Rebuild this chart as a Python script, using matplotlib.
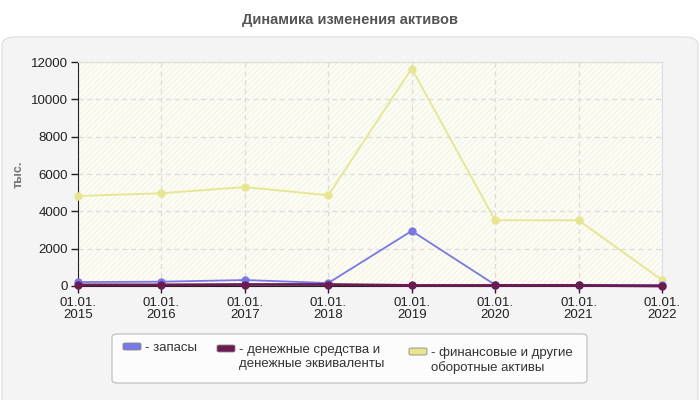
"""Dynamics of assets: line chart with three series."""

import matplotlib
import matplotlib.pyplot as plt
from matplotlib.patches import FancyBboxPatch, Rectangle

matplotlib.use("Agg")

plt.rcParams["font.family"] = ["Liberation Sans", "DejaVu Sans"]
plt.rcParams["hatch.linewidth"] = 0.5

# data (тыс.)
years = ["2015", "2016", "2017", "2018", "2019", "2020", "2021", "2022"]
zapasy = [210, 230, 320, 160, 2950, 60, 60, 50]
den_sredstva = [60, 60, 80, 80, 30, 30, 30, 0]
fin_aktivy = [4820, 4970, 5300, 4860, 11650, 3520, 3520, 320]

labels = ["- запасы", "- денежные средства и\nденежные эквиваленты",
          "- финансовые и другие\nоборотные активы"]
colors = ["#7878e8", "#6b1a52", "#e6e68e"]

W, H = 700, 400


def px(x, y):
    """pixel coords (from top-left) -> figure fraction"""
    return x / W, 1 - y / H


fig = plt.figure(figsize=(7, 4), dpi=100)
fig.patch.set_facecolor("white")

# rounded light panel behind the plot
panel = FancyBboxPatch(px(2, 420), 696 / W, 383 / H,
                       boxstyle="round,pad=0,rounding_size=0.02",
                       transform=fig.transFigure, facecolor="#f4f4f4",
                       edgecolor="#e2e2e2", linewidth=1, zorder=-10)
fig.patches.append(panel)

fig.text(0.5, 1 - 20 / H, "Динамика изменения активов", ha="center", va="center",
         fontsize=10.5, fontweight="bold", color="#555555")

ax = fig.add_axes([78 / W, 114 / H, 584 / W, 224 / H])
ax.set_facecolor("#fdfdf3")
ax.add_patch(Rectangle((0, 0), 1, 1, transform=ax.transAxes, facecolor="none",
                       edgecolor="#ececE6", hatch="//////", linewidth=0, zorder=0))

x = list(range(len(years)))
ax.plot(x, fin_aktivy, color=colors[2], linewidth=1.3, marker="o", markersize=5,
        clip_on=False, zorder=3)
ax.plot(x, zapasy, color=colors[0], linewidth=1.3, marker="o", markersize=5,
        clip_on=False, zorder=4)
ax.plot(x, den_sredstva, color=colors[1], linewidth=2, marker="o", markersize=5,
        clip_on=False, zorder=5)

ax.set_xlim(0, len(years) - 1)
ax.set_ylim(0, 12000)
ax.set_yticks(range(0, 12001, 2000))
ax.set_xticks(x)
ax.set_xticklabels([f"01.01.\n{y}" for y in years], linespacing=0.95)
ax.tick_params(axis="both", labelsize=9.5, colors="#222222", length=5, width=1,
               direction="out", pad=2)
ax.tick_params(axis="x", pad=3)

ax.grid(True, color="#dcdcdc", linestyle=(0, (4, 3)), linewidth=0.9)
ax.set_axisbelow(True)
for side in ("top", "right"):
    ax.spines[side].set_color("#dddddd")
for side in ("left", "bottom"):
    ax.spines[side].set_color("#222222")

ax.set_ylabel("тыс.", fontsize=9, fontweight="bold", color="#777777", labelpad=5)

# legend box drawn by hand: items are top-aligned and staggered as in the source
box = FancyBboxPatch(px(112, 383), 475 / W, 49 / H,
                     boxstyle="round,pad=0,rounding_size=0.008",
                     transform=fig.transFigure, facecolor="#fcfcfc",
                     edgecolor="#bbbbbb", linewidth=0.8)
fig.patches.append(box)
swatch_pos = [(123, 343), (217, 345), (409, 348)]
for (sx, sy), color, label in zip(swatch_pos, colors, labels):
    fig.patches.append(FancyBboxPatch(px(sx, sy + 7), 18 / W, 7 / H,
                                      boxstyle="round,pad=0,rounding_size=0.003",
                                      transform=fig.transFigure, facecolor=color,
                                      edgecolor="#888888", linewidth=0.6))
    fig.text(*px(sx + 22, sy - 1), label, ha="left", va="top", fontsize=9.5,
             color="#333333", linespacing=1.25)

fig.savefig("out.png", dpi=100)
plt.close(fig)
